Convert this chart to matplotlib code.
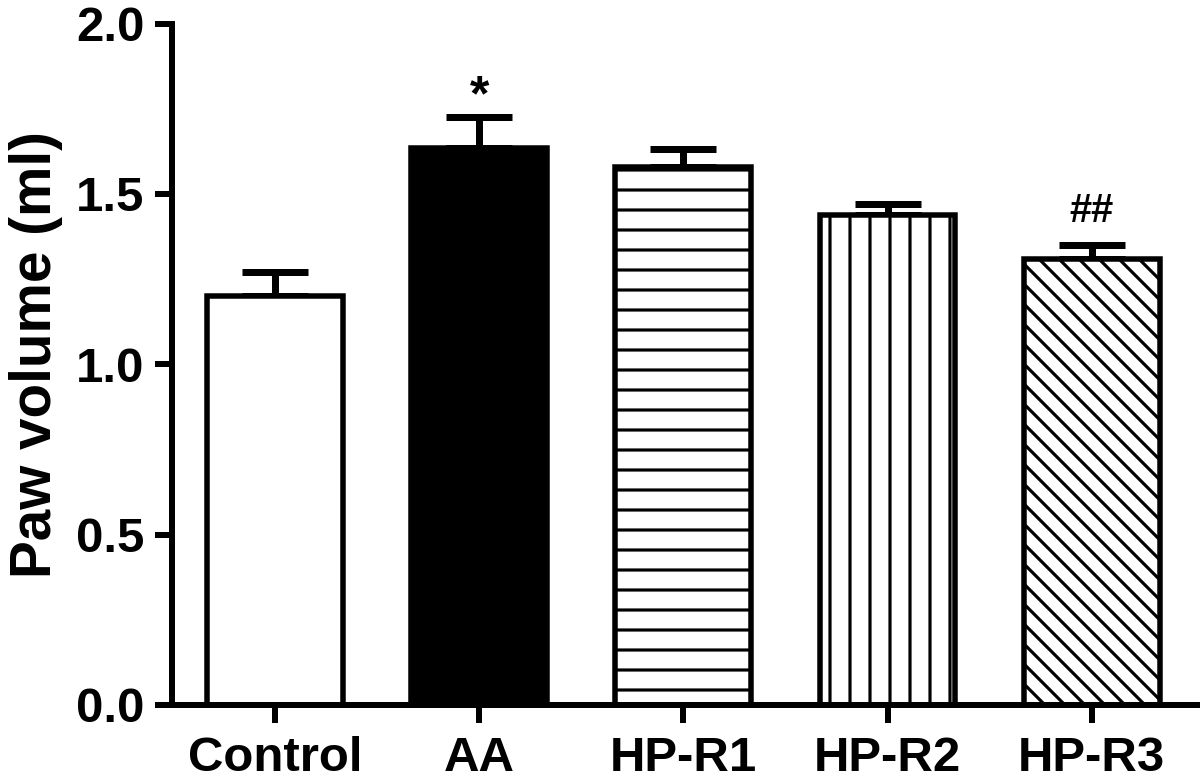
import matplotlib
matplotlib.use("Agg")
import matplotlib.pyplot as plt

categories = ["Control", "AA", "HP-R1", "HP-R2", "HP-R3"]
means = [1.200, 1.636, 1.579, 1.437, 1.310]
sems = [0.071, 0.091, 0.053, 0.034, 0.039]
fills = ["white", "black", "white", "white", "white"]
hatches = [None, None, "-", "|", "\\\\"]
marks = ["", "*", "", "", "##"]
y_ticks = [0.0, 0.5, 1.0, 1.5, 2.0]

plt.rcParams["font.family"] = ["Liberation Sans", "DejaVu Sans"]
plt.rcParams["hatch.linewidth"] = 1.9

DPI = 120
fig = plt.figure(figsize=(1200 / DPI, 779 / DPI), dpi=DPI)
ax = fig.add_axes([172 / 1200, 1 - 705 / 779, 1 - 172 / 1200, (705 - 23.5) / 779])

x = list(range(len(categories)))
ax.errorbar(x, means, yerr=[[0] * len(sems), sems], fmt="none", ecolor="black",
            elinewidth=4.2, capsize=20, capthick=4.2, zorder=1)
for xi, m, fc, h in zip(x, means, fills, hatches):
    ax.bar(xi, m, width=0.665, color=fc, edgecolor="black", linewidth=3.3,
           hatch=h, zorder=2)

for xi, m, s, t in zip(x, means, sems, marks):
    if not t:
        continue
    if t == "*":
        ax.annotate(t, (xi, m + s), xytext=(0, 4), textcoords="offset points",
                    ha="center", va="baseline", fontsize=30, fontweight="bold")
    else:
        ax.annotate(t, (xi, m + s), xytext=(0, 14), textcoords="offset points",
                    ha="center", va="baseline", fontsize=24, fontweight="bold")

ax.set_xlim(-0.504, 4.53)
ax.set_ylim(0, 2.0)
ax.set_yticks(y_ticks)
ax.set_yticklabels([f"{v:.1f}" for v in y_ticks])
ax.set_xticks(x)
ax.set_xticklabels(categories)

for side in ["top", "right"]:
    ax.spines[side].set_visible(False)
for side in ["left", "bottom"]:
    ax.spines[side].set_linewidth(3.6)

ax.tick_params(axis="both", direction="out", length=10.5, width=3.6,
               labelsize=29.5)
ax.tick_params(axis="y", pad=6)
ax.tick_params(axis="x", pad=8)
for lab in ax.get_xticklabels() + ax.get_yticklabels():
    lab.set_fontweight("bold")

ax.set_ylabel("Paw volume (ml)", fontsize=34, fontweight="bold")
ax.yaxis.set_label_coords(-0.106, 0.515)

fig.savefig("out.png", dpi=DPI)
